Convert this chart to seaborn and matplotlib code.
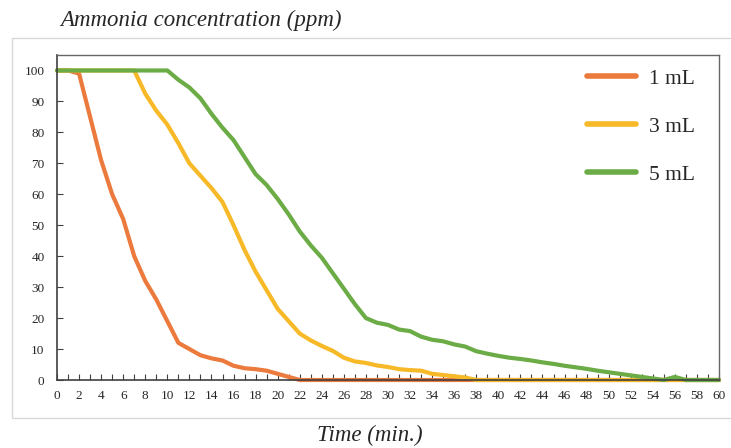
import numpy as np
import pandas as pd
import matplotlib
matplotlib.use("Agg")
import matplotlib.pyplot as plt
from matplotlib.patches import Rectangle
from matplotlib.ticker import MultipleLocator
import seaborn as sns

time_min = list(range(0, 61))
ml1 = [100, 100, 99, 85, 71, 60, 52, 40, 32, 26, 19, 12, 10, 8, 7, 6.3, 4.6, 3.8, 3.5, 3, 2, 1,
       0, 0, 0, 0, 0, 0, 0, 0, 0, 0, 0, 0, 0, 0, 0, 0, 0, 0, 0, 0, 0, 0, 0, 0, 0, 0, 0, 0, 0,
       0, 0, 0, 0, 0, 0, 0, 0, 0, 0]
ml3 = [100, 100, 100, 100, 100, 100, 100, 100, 92.5, 87, 82.5, 76.5, 70, 66, 62, 57.5, 50, 42, 35, 29, 23,
       19, 15, 12.8, 11, 9.4, 7.2, 6, 5.5, 4.7, 4.2, 3.5, 3.2, 3, 2, 1.6, 1.2, 0.8, 0, 0, 0,
       0, 0, 0, 0, 0, 0, 0, 0, 0, 0, 0, 0, 0, 0, 0, 0, 0, 0, 0, 0]
ml5 = [100, 100, 100, 100, 100, 100, 100, 100, 100, 100, 100, 97, 94.5, 91, 86, 81.5, 77.5, 72, 66.5, 63, 58.5,
       53.5, 48, 43.5, 39.5, 34.5, 29.5, 24.5, 20, 18.5, 17.8, 16.3, 15.8, 14, 13, 12.5, 11.5, 10.8, 9.3, 8.5, 7.8,
       7.2, 6.8, 6.3, 5.7, 5.2, 4.6, 4.1, 3.6, 3.0, 2.5, 2.0, 1.5, 1.0, 0.5, 0, 1, 0, 0, 0, 0]
series_names = ["1 mL", "3 mL", "5 mL"]
colors = ["#EB7A3C", "#F7B928", "#6CAC46"]

df = pd.concat([
    pd.DataFrame({"Time": time_min, "Conc": vals, "Volume": name})
    for name, vals in zip(series_names, [ml1, ml3, ml5])
])

sns.set_style("white")
plt.rcParams["font.family"] = ["Liberation Serif", "DejaVu Serif"]

fig = plt.figure(figsize=(7.31, 4.48), dpi=100)
ax = fig.add_axes([57/731, 1-380/448, (719-57)/731, (380-55)/448])

# outer light border
fig.patches.append(Rectangle((12/731, 1-418/448), 1, (418-38)/448, transform=fig.transFigure,
                             fill=False, edgecolor="#d9d9d9", linewidth=1.0))

sns.lineplot(data=df, x="Time", y="Conc", hue="Volume", palette=colors, linewidth=3.0,
             ax=ax, legend=True)
for ln in ax.lines:
    ln.set_clip_on(False)

ax.set_xlim(0, 60)
ax.set_ylim(0, 105)
ax.xaxis.set_major_locator(MultipleLocator(2))
ax.xaxis.set_minor_locator(MultipleLocator(1))
ax.set_yticks(range(0, 101, 10))
ax.tick_params(axis="x", which="both", direction="in", length=4, width=0.8, color="#404040",
               labelsize=9.5, pad=7, bottom=True)
ax.tick_params(axis="y", which="major", direction="in", length=4, width=0.8, color="#404040",
               labelsize=9.5, pad=9, left=True)
ax.set_xlabel("")
ax.set_ylabel("")
for s in ["left", "bottom"]:
    ax.spines[s].set_color("#404040")
    ax.spines[s].set_linewidth(1.2)
for s in ["top", "right"]:
    ax.spines[s].set_color("#666666")
    ax.spines[s].set_linewidth(1.0)

leg = ax.legend(loc="upper right", frameon=False, fontsize=15.5, handlelength=2.3,
                labelspacing=1.3, borderaxespad=0.3, handletextpad=0.6,
                bbox_to_anchor=(0.987, 1.005))
for h in leg.get_lines():
    h.set_linewidth(4)

fig.text(60/731, 1-20/448, "Ammonia concentration (ppm)", fontsize=16.5, style="italic",
         ha="left", va="center")
fig.text(370/731, 1-435/448, "Time (min.)", fontsize=16.5, style="italic", ha="center", va="center")

fig.savefig("out.png", dpi=100)
